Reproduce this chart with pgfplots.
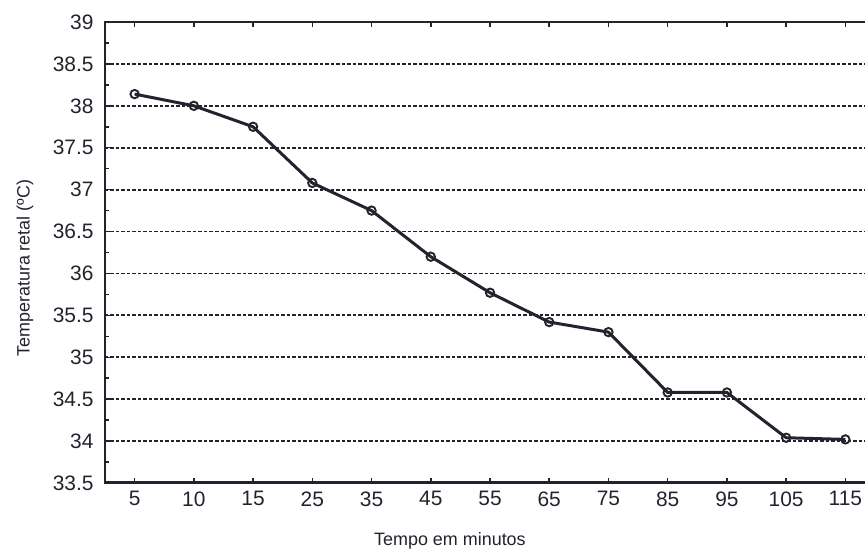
\documentclass[border=0pt]{standalone}
\usepackage{pgfplots}
\pgfplotsset{compat=1.18}
\usepackage{fontspec}
\setmainfont{Liberation Sans}
\definecolor{ink}{HTML}{23232E}
\begin{document}
\begin{tikzpicture}
\begin{axis}[
  scale only axis, width=770bp, height=461bp,
  xmin=-0.5, xmax=12.5, ymin=33.5, ymax=39,
  xtick={0,...,12},
  xticklabels={5,10,15,25,35,45,55,65,75,85,95,105,115},
  ytick={33.5,34,34.5,35,35.5,36,36.5,37,37.5,38,38.5,39},
  minor ytick={33.75,34.25,34.75,35.25,35.75,36.25,36.75,37.25,37.75,38.25,38.75},
  /pgf/number format/assume math mode=true,
  ymajorgrids,
  major grid style={ink, dash pattern=on 3.5bp off 2bp, line width=1.9bp},
  tick align=inside,
  tick style={ink, line width=1.5bp},
  major tick length=5bp, minor tick length=4bp,
  axis line style={ink, line width=2.2bp},
  tick label style={font=\fontsize{21}{21}\selectfont, text=ink},
  xticklabel style={yshift=-5bp},
  yticklabel style={xshift=-8bp},
  xlabel={Tempo em minutos},
  ylabel={Temperatura retal (ºC)},
  label style={font=\fontsize{18}{18}\selectfont, text=ink},
  xlabel style={at={(axis description cs:0.448,-0.1258)}, anchor=center},
  ylabel style={at={(axis description cs:-0.1039,0.466)}, anchor=center},
]
\addplot[ink, line width=3bp, mark=o, mark size=4.2bp,
  mark options={fill=white, line width=1.9bp}] coordinates {
  (0,38.14) (1,38.00) (2,37.75) (3,37.08) (4,36.75) (5,36.20) (6,35.77)
  (7,35.42) (8,35.30) (9,34.58) (10,34.58) (11,34.04) (12,34.02)
};
\draw[ink, line width=3.2bp] (axis cs:-0.5,33.5) -- (axis cs:12.5,33.5);
\draw[ink, line width=3bp] (axis cs:-0.5,33.5) -- (axis cs:-0.5,39);
\end{axis}
\pgfresetboundingbox
\path[use as bounding box] ([xshift=-105bp,yshift=-73bp]current axis.south west) rectangle ([xshift=-10bp,yshift=22bp]current axis.north east);
\end{tikzpicture}
\end{document}
